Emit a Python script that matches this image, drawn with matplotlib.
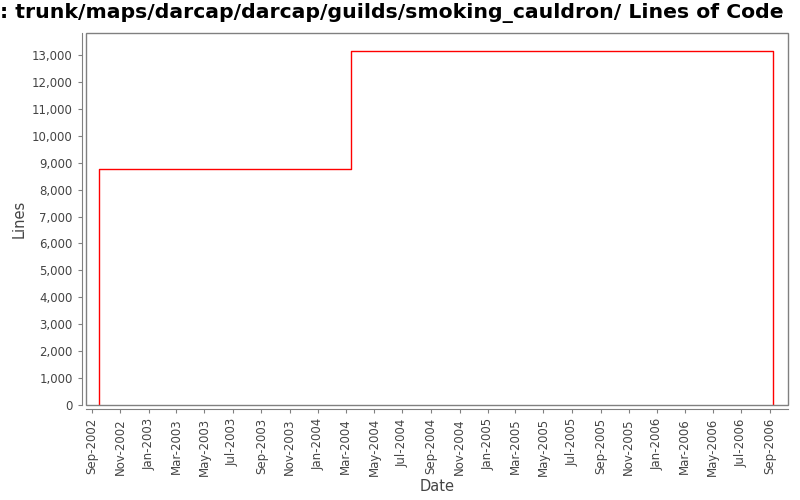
import numpy as np
import matplotlib
matplotlib.use('Agg')
import matplotlib.pyplot as plt
import matplotlib.dates as mdates
import matplotlib.ticker as mticker
from matplotlib.patches import Rectangle

# Lines of code over time (step chart)
dates = np.array(['2002-09-16', '2002-09-16', '2004-03-13', '2006-09-08', '2006-09-08'],
                 dtype='datetime64[D]')
lines = [0, 8750, 13150, 13150, 0]

title = ': trunk/maps/darcap/darcap/guilds/smoking_cauldron/ Lines of Code'
grey = '#808080'
txt = '#444444'

fig = plt.figure(figsize=(8, 5), dpi=100)
ax = fig.add_axes([0.1075, 0.19, 0.8775, 0.744])

ax.plot(dates, lines, drawstyle='steps-post', color='red', linewidth=1)

ax.set_xlim(np.datetime64('2002-08-19'), np.datetime64('2006-10-10'))
ax.set_ylim(0, 13820)

# plot-area border plus offset axis lines
ax.add_patch(Rectangle((0, 0), 1, 1, transform=ax.transAxes, fill=False,
                       edgecolor=grey, linewidth=1, clip_on=False, zorder=5))
for s in ['top', 'right']:
    ax.spines[s].set_visible(False)
for s in ['left', 'bottom']:
    ax.spines[s].set_position(('outward', 3))
    ax.spines[s].set_color(grey)

ax.xaxis.set_major_locator(mdates.MonthLocator(bymonth=[1, 3, 5, 7, 9, 11]))
ax.xaxis.set_major_formatter(mdates.DateFormatter('%b-%Y'))
ax.yaxis.set_major_locator(mticker.MultipleLocator(1000))
ax.yaxis.set_major_formatter(mticker.StrMethodFormatter('{x:,.0f}'))
ax.tick_params(axis='both', colors=grey, labelcolor=txt, labelsize=8.5, length=3)
plt.setp(ax.get_xticklabels(), rotation=90)

ax.set_xlabel('Date', fontsize=10.5, color=txt, labelpad=2)
ax.set_ylabel('Lines', fontsize=10.5, color=txt)

fig.text(0.0, 0.974, title, fontsize=14.7, fontweight='bold', ha='left', va='center')

fig.savefig('out.png', dpi=100)
